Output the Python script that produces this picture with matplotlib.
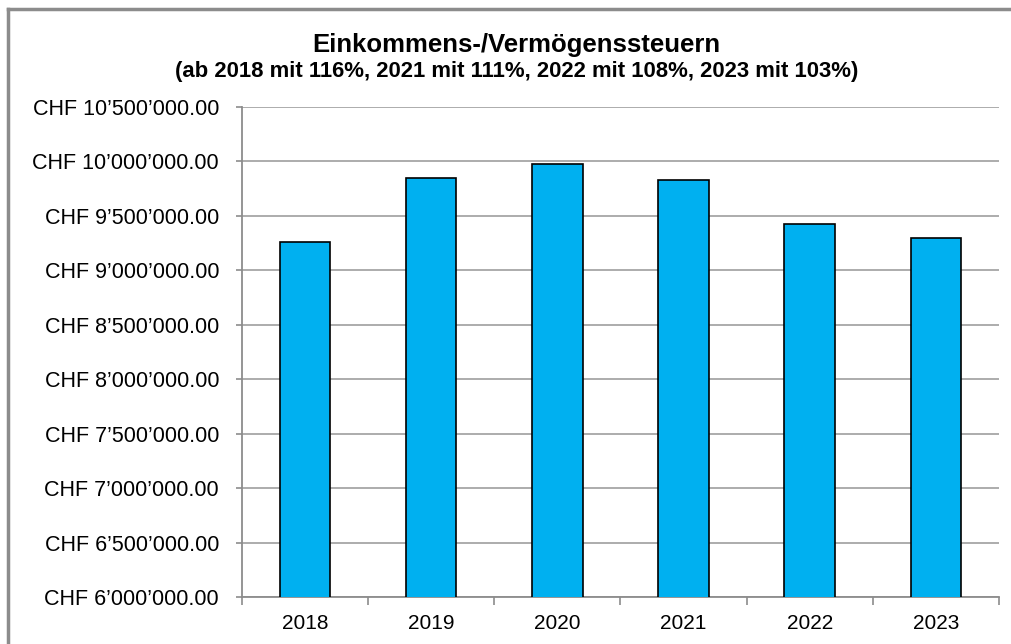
import matplotlib.pyplot as plt
from matplotlib.lines import Line2D
from matplotlib.ticker import FuncFormatter

plt.rcParams["font.family"] = ["Liberation Sans", "DejaVu Sans"]

# values (CHF)
years = ["2018", "2019", "2020", "2021", "2022", "2023"]
revenue = [9257000, 9850000, 9979000, 9829000, 9422000, 9294000]
y_ticks = [6000000 + 500000 * i for i in range(10)]

TITLE = "Einkommens-/Vermögenssteuern"
SUBTITLE = "(ab 2018 mit 116%, 2021 mit 111%, 2022 mit 108%, 2023 mit 103%)"


def chf(v, pos=None):
    return "CHF " + f"{v:,.2f}".replace(",", "\u2019")


fig = plt.figure(figsize=(10.11, 6.44), dpi=100)
ax = fig.add_axes([0.2394, 0.073, 0.7486, 0.761])

x = range(len(years))
ax.bar(x, revenue, width=0.4, color="#00B0F0", edgecolor="black",
       linewidth=1.2, zorder=3)

ax.set_ylim(6000000, 10500000)
ax.set_xlim(-0.5, len(years) - 0.5)
ax.set_yticks(y_ticks)
ax.yaxis.set_major_formatter(FuncFormatter(chf))
ax.grid(axis="y", color="#A6A6A6", linewidth=1.3, zorder=0)

ax.set_xticks(list(x))
ax.set_xticklabels(years)
ax.set_xticks([i - 0.5 for i in range(len(years) + 1)], minor=True)
ax.tick_params(axis="x", which="major", length=0, pad=12, labelsize=15)
ax.tick_params(axis="x", which="minor", length=6, color="#8C8C8C", width=1.2)
ax.tick_params(axis="y", length=4.5, color="#8C8C8C", width=1.2, pad=12,
               labelsize=15.5)

for side in ["top", "right"]:
    ax.spines[side].set_visible(False)
for side in ["left", "bottom"]:
    ax.spines[side].set_color("#8C8C8C")
    ax.spines[side].set_linewidth(1.3)

fig.text(0.511, 0.930, TITLE, ha="center", va="center",
         fontsize=18.5, fontweight="bold")
fig.text(0.511, 0.889, SUBTITLE, ha="center", va="center",
         fontsize=15.9, fontweight="bold")

# outer chart frame (only left and top edges visible in the crop)
fig.add_artist(Line2D([8 / 1011, 8 / 1011], [0, 1 - 9 / 644],
                      color="#8C8C8C", linewidth=2.5))
fig.add_artist(Line2D([8 / 1011, 1], [1 - 9 / 644, 1 - 9 / 644],
                      color="#8C8C8C", linewidth=2.5))

fig.savefig("out.png", dpi=100)
